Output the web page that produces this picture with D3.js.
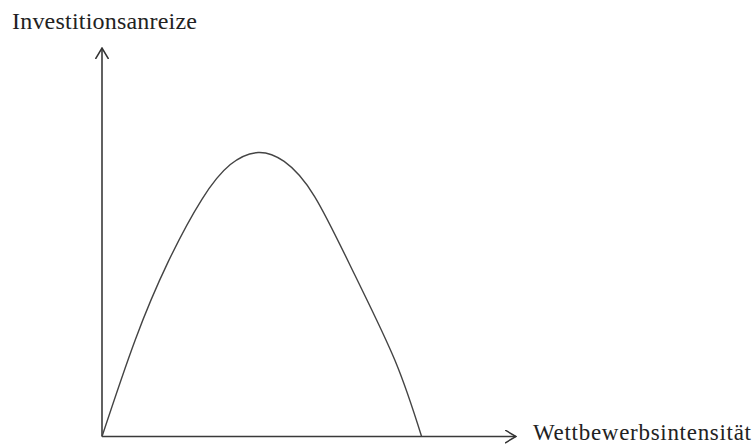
<!DOCTYPE html>
<html>
<head>
<meta charset="utf-8">
<script src="https://cdn.jsdelivr.net/npm/d3@7"></script>
<style>
  html, body { margin: 0; padding: 0; background: #fff; }
  svg { display: block; }
</style>
</head>
<body>
<svg id="chart" width="755" height="445"></svg>
<script>
// Data (arbitrary units)
const xValues = [0.0, 0.80, 1.60, 2.41, 3.10, 3.77, 4.40, 5.14, 6.11, 7.08, 7.72];
const yValues = [0.0, 2.48, 4.50, 6.10, 7.00, 7.31, 7.08, 6.17, 4.15, 1.95, 0.0];
const xLabel = "Wettbewerbsintensität";
const yLabel = "Investitionsanreize";

const svg = d3.select("#chart");
const x = d3.scaleLinear().domain([0, 10]).range([102, 516]);
const y = d3.scaleLinear().domain([0, 10]).range([436.5, 48]);

const defs = svg.append("defs");
defs.append("marker")
  .attr("id", "arrow")
  .attr("viewBox", "0 0 12 14")
  .attr("refX", 11).attr("refY", 7)
  .attr("markerWidth", 12).attr("markerHeight", 14)
  .attr("markerUnits", "userSpaceOnUse")
  .attr("orient", "auto")
  .append("path")
  .attr("d", "M0,0.5 L11,7 L0,13.5")
  .attr("fill", "none")
  .attr("stroke", "#333")
  .attr("stroke-width", 1.5);

const axisColor = "#3a3a3a";

const gx = svg.append("g").attr("transform", `translate(0,${y(0)})`)
  .call(d3.axisBottom(x).tickValues([]).tickSizeOuter(0));
gx.select(".domain").attr("stroke", axisColor).attr("stroke-width", 1.6)
  .attr("d", `M${x(0)},0H${x(10)}`).attr("marker-end", "url(#arrow)");

const gy = svg.append("g").attr("transform", `translate(${x(0)},0)`)
  .call(d3.axisLeft(y).tickValues([]).tickSizeOuter(0));
gy.select(".domain").attr("stroke", axisColor).attr("stroke-width", 1.6)
  .attr("d", `M0,${y(0)}V${y(10)}`).attr("marker-end", "url(#arrow)");

const pts = xValues.map((v, i) => [v, yValues[i]]);
svg.append("path")
  .datum(pts)
  .attr("fill", "none")
  .attr("stroke", "#444")
  .attr("stroke-width", 1.4)
  .attr("d", d3.line().x(d => x(d[0])).y(d => y(d[1])).curve(d3.curveNatural));

svg.append("text")
  .attr("x", 12).attr("y", 29)
  .attr("font-family", "'Liberation Serif', 'Times New Roman', serif")
  .attr("font-size", 24).attr("fill", "#222")
  .attr("textLength", 185).attr("lengthAdjust", "spacing")
  .text(yLabel);

svg.append("text")
  .attr("x", 533).attr("y", 440)
  .attr("font-family", "'Liberation Serif', 'Times New Roman', serif")
  .attr("font-size", 23).attr("fill", "#222")
  .attr("textLength", 218).attr("lengthAdjust", "spacing")
  .text(xLabel);
</script>
</body>
</html>
